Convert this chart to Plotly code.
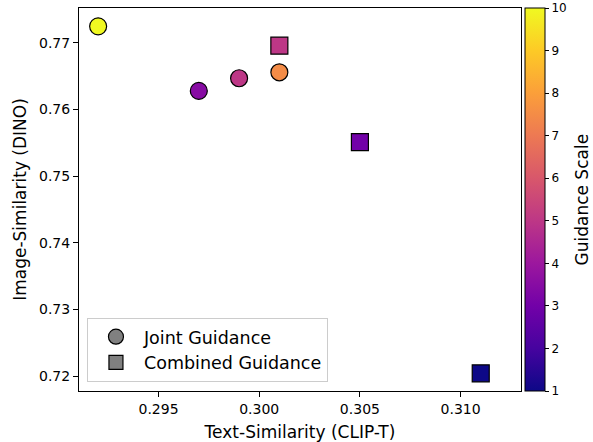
import plotly.graph_objects as go

# Joint Guidance (circles)
joint_x = [0.292, 0.297, 0.299, 0.301]
joint_y = [0.7725, 0.7628, 0.7647, 0.7656]
joint_scale = [10, 3.5, 5, 7.5]

# Combined Guidance (squares)
comb_x = [0.301, 0.305, 0.311]
comb_y = [0.7696, 0.7551, 0.7204]
comb_scale = [5, 3, 1]

x_ticks = [0.295, 0.300, 0.305, 0.310]
y_ticks = [0.72, 0.73, 0.74, 0.75, 0.76, 0.77]
cbar_ticks = list(range(1, 11))

FONT = "DejaVu Sans"
cbar = dict(
    x=1.009, xanchor="left", xref="paper",
    y=0, yanchor="bottom", len=1, lenmode="fraction",
    thickness=20, thicknessmode="pixels",
    outlinecolor="black", outlinewidth=1,
    ticks="outside", ticklen=4, tickcolor="black",
    tickvals=cbar_ticks, tickfont=dict(family=FONT, size=12, color="black"),
    xpad=0, ypad=0,
)

fig = go.Figure()
fig.add_trace(go.Scatter(
    x=joint_x, y=joint_y, mode="markers", showlegend=False,
    marker=dict(symbol="circle", size=17, color=joint_scale, colorscale="Plasma",
                cmin=1, cmax=10, line=dict(color="black", width=1.2),
                showscale=True, colorbar=cbar),
))
fig.add_trace(go.Scatter(
    x=comb_x, y=comb_y, mode="markers", showlegend=False,
    marker=dict(symbol="square", size=17, color=comb_scale, colorscale="Plasma",
                cmin=1, cmax=10, line=dict(color="black", width=1.2),
                showscale=False),
))
# legend entries
fig.add_trace(go.Scatter(
    x=[None], y=[None], mode="markers", name="Joint Guidance",
    marker=dict(symbol="circle", size=15, color="#808080", line=dict(color="black", width=1.2)),
))
fig.add_trace(go.Scatter(
    x=[None], y=[None], mode="markers", name="Combined Guidance",
    marker=dict(symbol="square", size=14, color="#808080", line=dict(color="black", width=1.2)),
))

axis_common = dict(
    showline=True, mirror=True, linecolor="black", linewidth=1,
    ticks="outside", ticklen=5, tickcolor="black", showgrid=False, zeroline=False,
    tickfont=dict(family=FONT, size=14, color="black"), automargin=False,
)

fig.update_layout(
    width=593, height=442,
    margin=dict(l=79, r=72, t=8, b=51),
    paper_bgcolor="white", plot_bgcolor="white",
    font=dict(family=FONT, color="black"),
    xaxis=dict(range=[0.29105, 0.3130], tickvals=x_ticks, tickformat=".3f",
               title=dict(text="Text-Similarity (CLIP-T)", font=dict(family=FONT, size=17), standoff=10),
               **axis_common),
    yaxis=dict(range=[0.71775, 0.77525], tickvals=y_ticks, tickformat=".2f",
               title=dict(text="Image-Similarity (DINO)", font=dict(family=FONT, size=17), standoff=8),
               **axis_common),
    legend=dict(x=0.018, y=0.024, xanchor="left", yanchor="bottom",
                bordercolor="#cccccc", borderwidth=1, bgcolor="white",
                font=dict(family=FONT, size=17.5, color="black"),
                itemsizing="trace", itemwidth=46),
    annotations=[dict(text="Guidance Scale", x=1.138, y=0.5, xref="paper", yref="paper",
                      xanchor="center", yanchor="middle", textangle=-90, showarrow=False,
                      font=dict(family=FONT, size=17, color="black"))],
)

fig.write_html("out.html", config={"displayModeBar": False},
               post_script="document.body.style.margin='0px';")
